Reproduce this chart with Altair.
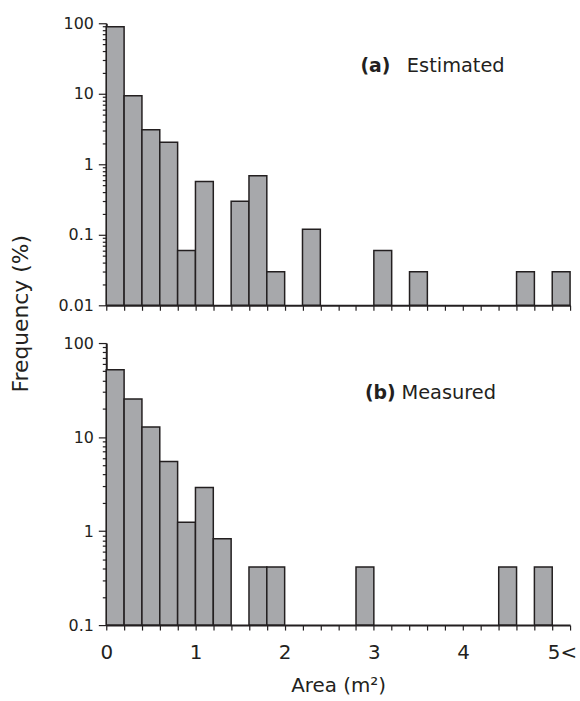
import altair as alt
import pandas as pd

# ---- data (bin lower edges in m², bin width 0.2) ----
est_lo = [0.0, 0.2, 0.4, 0.6, 0.8, 1.0, 1.4, 1.6, 1.8, 2.2, 3.0, 3.4, 4.6, 5.0]
est_val = [89, 9.4, 3.1, 2.06, 0.06, 0.57, 0.30, 0.69, 0.03, 0.12, 0.06, 0.03, 0.03, 0.03]

mea_lo = [0.0, 0.2, 0.4, 0.6, 0.8, 1.0, 1.2, 1.6, 1.8, 2.8, 4.4, 4.8]
mea_val = [52, 25.4, 12.8, 5.5, 1.24, 2.9, 0.83, 0.415, 0.415, 0.415, 0.415, 0.415]

bin_width = 0.2
x_ticks = [0.0, 0.2, 0.4, 0.6, 0.8, 1.0, 1.2, 1.4, 1.6, 1.8, 2.0, 2.2, 2.4, 2.6,
           2.8, 3.0, 3.2, 3.4, 3.6, 3.8, 4.0, 4.2, 4.4, 4.6, 4.8, 5.0, 5.2]
x_domain = [0, 5.2]

FONT = "DejaVu Sans"
INK = "#231f20"
FILL = "#a7a8ab"


def log_ticks(ymin):
    majors = [m for m in [0.01, 0.1, 1, 10, 100] if m >= ymin]
    vals = []
    for d in majors[:-1]:
        vals.append(d)
        for k in range(2, 10):
            vals.append(round(d * k, 6))
    vals.append(majors[-1])
    return majors, vals


def panel(lo, vals, ymin, bold_txt, norm_txt, bx, nx, ly, bottom):
    df = pd.DataFrame({"lo": lo, "val": vals})
    df["hi"] = df["lo"] + bin_width
    df["base"] = ymin

    majors, yvals = log_ticks(ymin)
    major_list = "[" + ",".join(repr(m) for m in majors) + "]"
    is_major = f"indexof({major_list}, datum.value) >= 0"

    yscale = alt.Scale(type="log", domain=[ymin, 100], nice=False)
    xscale = alt.Scale(domain=x_domain, nice=False, zero=False)

    ycommon = dict(
        values=yvals,
        tickCount=500,
        labelExpr=f"{is_major} ? format(datum.value, '~g') : ''",
        tickSize={"condition": {"test": is_major, "value": 8}, "value": 4},
        labelOverlap=False,
        labelPadding=5,
    )
    if bottom:
        yaxis = alt.Axis(
            **ycommon,
            title="Frequency (%)",
            titleX=-74,
            titleY=-30,
            titleBaseline="bottom",
            titleAlign="center",
            titleFontSize=22,
        )
        xaxis = alt.Axis(
            values=x_ticks,
            tickCount=500,
            labelExpr="datum.value == 5 ? '5<' : (datum.value == round(datum.value) ? format(datum.value, 'd') : '')",
            labelAlign={"condition": {"test": "datum.value == 5", "value": "left"}, "value": "center"},
            labelOffset={"condition": {"test": "datum.value == 5", "value": -5}, "value": 0},
            labelOverlap=False,
            labelFlush=False,
            labelFontSize=20,
            labelPadding=13,
            title="Area (m²)",
            titleFontSize=20,
            titlePadding=13,
        )
    else:
        yaxis = alt.Axis(**ycommon, title=None)
        xaxis = alt.Axis(values=x_ticks, tickCount=500, labels=False, title=None)

    bars = alt.Chart(df).mark_bar(
        fill=FILL, stroke=INK, strokeWidth=1.5
    ).encode(
        x=alt.X("lo:Q", scale=xscale, axis=xaxis),
        x2="hi:Q",
        y=alt.Y("val:Q", scale=yscale, axis=yaxis),
        y2="base:Q",
    )

    lab_b = pd.DataFrame({"x": [bx], "y": [ly], "t": [bold_txt]})
    lab_n = pd.DataFrame({"x": [nx], "y": [ly], "t": [norm_txt]})
    t_bold = alt.Chart(lab_b).mark_text(
        font=FONT, fontSize=19, fontWeight="bold", align="left", baseline="alphabetic", color=INK
    ).encode(x=alt.X("x:Q", scale=xscale), y=alt.Y("y:Q", scale=yscale), text="t:N")
    t_norm = alt.Chart(lab_n).mark_text(
        font=FONT, fontSize=19.5, fontWeight="normal", align="left", baseline="alphabetic", color=INK
    ).encode(x=alt.X("x:Q", scale=xscale), y=alt.Y("y:Q", scale=yscale), text="t:N")

    return alt.layer(bars, t_bold, t_norm).properties(width=467, height=284)


top = panel(est_lo, est_val, 0.01, "(a)", "Estimated", 2.85, 3.37, 20.3, False)
bot = panel(mea_lo, mea_val, 0.1, "(b)", "Measured", 2.90, 3.31, 25.4, True)

chart = alt.vconcat(top, bot, spacing=38, bounds="flush").properties(
    padding={"left": 10, "top": 13, "right": 3, "bottom": 2}
).configure_view(stroke=None).configure_axis(
    domainColor=INK,
    domainWidth=2,
    tickColor=INK,
    tickWidth=1.2,
    grid=False,
    labelFont=FONT,
    labelFontSize=16,
    labelColor=INK,
    titleFont=FONT,
    titleColor=INK,
    titleFontWeight="normal",
)

chart.save("out.html", embed_options={"renderer": "svg", "actions": False})
